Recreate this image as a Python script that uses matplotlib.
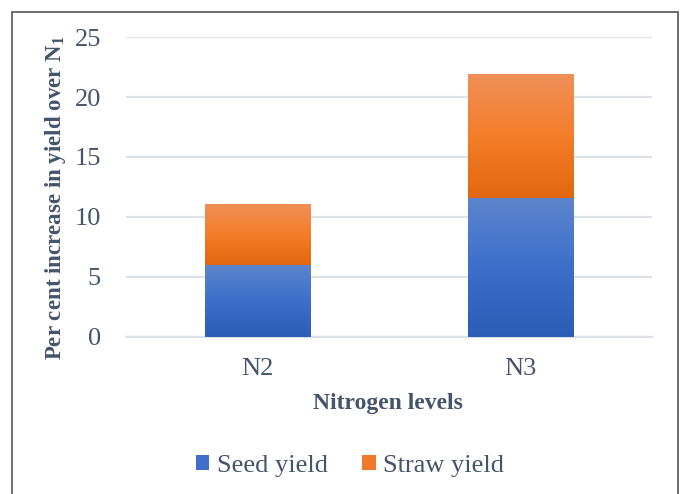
import numpy as np
import matplotlib
matplotlib.use("Agg")
import matplotlib.pyplot as plt
from matplotlib.colors import LinearSegmentedColormap
from matplotlib.patches import Rectangle, Patch

# data
levels = ["N2", "N3"]
seed_yield = [6.0, 11.6]
straw_yield = [5.1, 10.3]

textColor = "#44546a"
plt.rcParams['font.family'] = ['Liberation Serif', 'DejaVu Serif']
plt.rcParams['mathtext.fontset'] = 'custom'
plt.rcParams['mathtext.bf'] = 'Liberation Serif:bold'
plt.rcParams['mathtext.rm'] = 'Liberation Serif'

fig = plt.figure(figsize=(6.8, 4.94), dpi=100)
ax = fig.add_axes([0.185, 0.318, 0.774, 0.607])

x = np.arange(len(levels))
width = 0.4

blueMap = LinearSegmentedColormap.from_list("blue", ["#2b5cb6", "#3d6fca", "#5d85cd"])
orangeMap = LinearSegmentedColormap.from_list("orange", ["#e2670f", "#f47d29", "#f08f59"])

def gradientBars(xs, bottoms, heights, cmap):
    bars = ax.bar(xs, heights, width, bottom=bottoms, color="none", edgecolor="none", zorder=3)
    grad = np.linspace(0, 1, 256).reshape(-1, 1)
    for b in bars:
        x0, y0 = b.get_x(), b.get_y()
        im = ax.imshow(grad, cmap=cmap, origin="lower", aspect="auto",
                       extent=[x0, x0 + b.get_width(), y0, y0 + b.get_height()], zorder=3)
        im.set_clip_path(b)
    return bars

gradientBars(x, [0, 0], seed_yield, blueMap)
gradientBars(x, seed_yield, straw_yield, orangeMap)

ax.set_xlim(-0.5, 1.5)
ax.set_ylim(0, 25)
ax.set_yticks([0, 5, 10, 15, 20, 25])
ax.set_xticks(x)
ax.set_xticklabels(levels)
ax.grid(axis="y", color="#dde1e8", linewidth=1.6, zorder=0)
ax.set_axisbelow(True)
for s in ["top", "right", "left"]:
    ax.spines[s].set_visible(False)
ax.spines["bottom"].set_color("#dde1e8")
ax.spines["bottom"].set_linewidth(1.6)
ax.tick_params(axis="both", length=0, labelsize=19, colors=textColor)
ax.tick_params(axis="y", pad=18)
ax.tick_params(axis="x", pad=15)

# axis titles
fig.text(388 / 680, 1 - 403 / 494, "Nitrogen levels", fontsize=17, fontweight="bold",
         color=textColor, ha="center", va="center")
fig.text(56 / 680, 1 - 198 / 494, "Per cent increase in yield over N$_\\mathbf{1}$", fontsize=16.5,
         fontweight="bold", color=textColor, ha="center", va="center", rotation=90)

handles = [Patch(facecolor="#3f6fc8", label="Seed yield"),
           Patch(facecolor="#f07a2a", label="Straw yield")]
fig.legend(handles=handles, loc="center", bbox_to_anchor=(0.515, 0.057), ncol=2, frameon=False,
           fontsize=19, labelcolor=textColor, handlelength=0.5, handleheight=0.5,
           handletextpad=0.3, columnspacing=1.3)

# outer frame
fig.patches.append(Rectangle((12 / 680, -0.05), 666 / 680, 1 - 12 / 494 + 0.05,
                             transform=fig.transFigure, fill=False, edgecolor="#555555",
                             linewidth=1.2))

fig.savefig("out.png", dpi=100)
